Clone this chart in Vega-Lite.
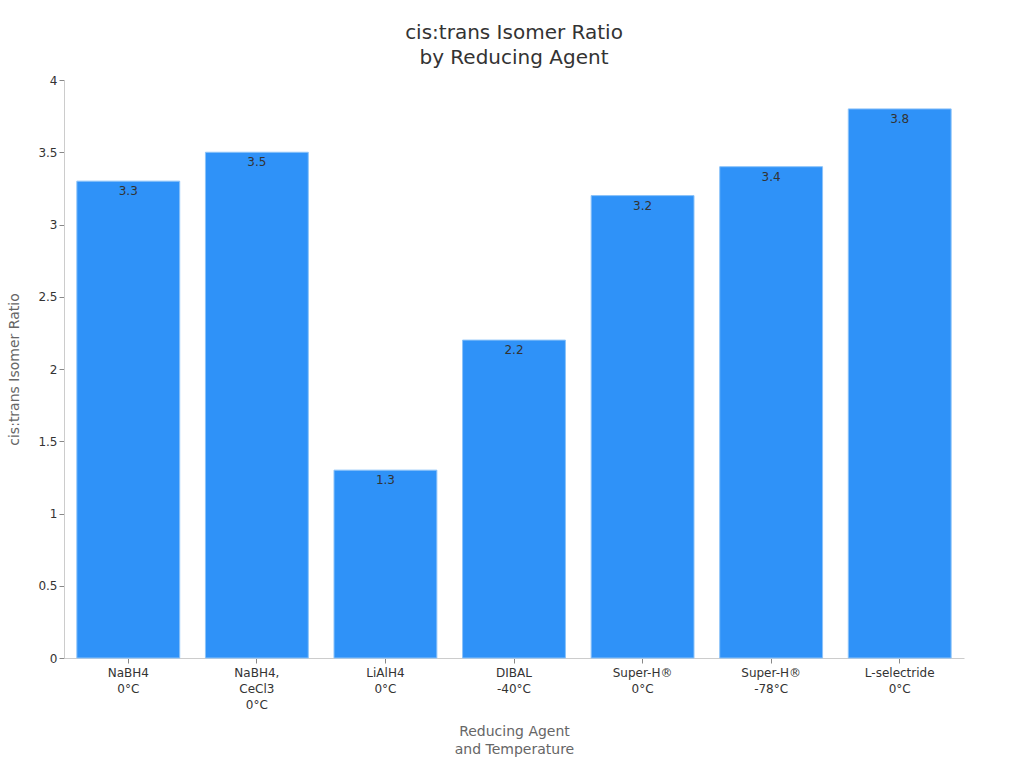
{
  "$schema": "https://vega.github.io/schema/vega-lite/v6.json",
  "width": 900,
  "height": 578,
  "autosize": "none",
  "padding": {"left": 64, "top": 80, "right": 60, "bottom": 110},
  "background": "white",
  "title": {
    "text": ["cis:trans Isomer Ratio", "by Reducing Agent"],
    "fontSize": 20,
    "fontWeight": "normal",
    "font": "DejaVu Sans",
    "color": "#333333",
    "offset": 6,
    "lineHeight": 25
  },
  "config": {
    "font": "DejaVu Sans",
    "view": {"stroke": null}
  },
  "data": {
    "values": [
      {"agent": "NaBH4\n0°C", "ratio": 3.3},
      {"agent": "NaBH4,\nCeCl3\n0°C", "ratio": 3.5},
      {"agent": "LiAlH4\n0°C", "ratio": 1.3},
      {"agent": "DIBAL\n-40°C", "ratio": 2.2},
      {"agent": "Super-H®\n0°C", "ratio": 3.2},
      {"agent": "Super-H®\n-78°C", "ratio": 3.4},
      {"agent": "L-selectride\n0°C", "ratio": 3.8}
    ]
  },
  "encoding": {
    "x": {
      "field": "agent",
      "type": "nominal",
      "sort": null,
      "scale": {"paddingInner": 0.2, "paddingOuter": 0.1},
      "axis": {
        "title": ["Reducing Agent", "and Temperature"],
        "titleFontSize": 14,
        "titleFontWeight": "normal",
        "titleColor": "#666666",
        "titlePadding": 14,
        "titleLineHeight": 18,
        "labelAngle": 0,
        "labelFontSize": 12,
        "labelColor": "#333333",
        "labelLineHeight": 16,
        "labelExpr": "split(datum.label, '\\n')",
        "domainColor": "#cccccc",
        "tickColor": "#888888",
        "labelPadding": 4
      }
    },
    "y": {
      "field": "ratio",
      "type": "quantitative",
      "scale": {"domain": [0, 4]},
      "axis": {
        "title": "cis:trans Isomer Ratio",
        "titleFontSize": 14,
        "titleFontWeight": "normal",
        "titleColor": "#666666",
        "titlePadding": 16,
        "labelFontSize": 12,
        "labelColor": "#333333",
        "format": "~g",
        "values": [0, 0.5, 1, 1.5, 2, 2.5, 3, 3.5, 4],
        "grid": false,
        "domainColor": "#cccccc",
        "tickColor": "#888888"
      }
    }
  },
  "layer": [
    {
      "mark": {"type": "bar", "color": "#2f92f8", "stroke": "#8cc3f9", "strokeWidth": 1}
    },
    {
      "mark": {"type": "text", "baseline": "top", "dy": 5, "fontSize": 12, "color": "#333333"},
      "encoding": {
        "text": {"field": "ratio", "type": "quantitative", "format": ".1f"}
      }
    }
  ]
}
